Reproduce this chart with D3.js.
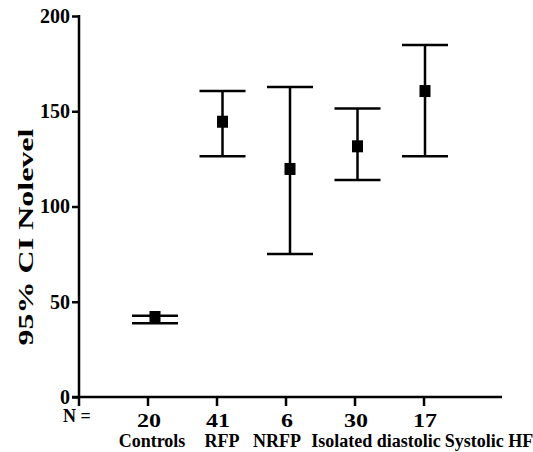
<!DOCTYPE html>
<html>
<head>
<meta charset="utf-8">
<script src="https://cdn.jsdelivr.net/npm/d3@7"></script>
</head>
<body style="margin:0; background:#fff;">
<div id="grafico"></div>
<script>
// datos
var grupos = ["Controls", "RFP", "NRFP", "Isolated diastolic", "Systolic HF"];
var n = [20, 41, 6, 30, 17];
var medias = [42.0, 144.5, 119.7, 131.6, 160.6];
var ic_bajo = [38.7, 126.4, 75.1, 113.9, 126.4];
var ic_alto = [42.7, 160.6, 162.7, 151.5, 184.8];
var ticks_y = [0, 50, 100, 150, 200];

// corrimiento de las etiquetas de grupo respecto de su tick (se enciman)
var corrimiento = [4, 5, -9, 21, 65];

var fuente = "'Liberation Serif'";

function estilo(sel, tam){
	sel.style("font-family", fuente)
		.style("font-weight", "bold")
		.style("font-size", tam + "px")
		.style("fill", "#000");
}

function graficar(){
	var width = 533, height = 452;

	var svg = d3.select("#grafico")
				.append("svg")
				.attr("width", width)
				.attr("height", height);

	var y = d3.scaleLinear().domain([0, 200]).range([397, 16]);
	// el eje x y las barras no comparten exactamente el mismo paso
	var xTick = d3.scaleLinear().domain([0, 6.13]).range([79, 502]);
	var xBarra = d3.scaleLinear().domain([1, 5]).range([155, 425]);

	// eje y
	var ejeY = d3.axisLeft(y).tickValues(ticks_y).tickSize(7).tickPadding(2);
	var gy = svg.append("g").attr("transform", "translate(79,0)").call(ejeY);
	gy.select(".domain").remove();
	gy.selectAll("line").attr("stroke", "#000").attr("stroke-width", 2.5);
	estilo(gy.selectAll("text"), 20);
	svg.append("line")
		.attr("x1", 79).attr("x2", 79)
		.attr("y1", y(200) - 1).attr("y2", 406)
		.attr("stroke", "#000").attr("stroke-width", 2.5);

	// eje x
	svg.append("line")
		.attr("x1", 72).attr("x2", xTick(6.13))
		.attr("y1", y(0)).attr("y2", y(0))
		.attr("stroke", "#000").attr("stroke-width", 2.5);

	var gx = svg.selectAll(".grupo")
				.data(grupos)
				.enter()
				.append("g")
				.attr("class", "grupo");

	gx.append("line")
		.attr("x1", function(d, i){ return xTick(i + 1); })
		.attr("x2", function(d, i){ return xTick(i + 1); })
		.attr("y1", y(0)).attr("y2", y(0) + 9)
		.attr("stroke", "#000").attr("stroke-width", 2.5);

	estilo(gx.append("text")
		.text(function(d, i){ return n[i]; })
		.attr("text-anchor", "middle")
		.attr("transform", function(d, i){
			return "translate(" + (xTick(i + 1) + 1) + ",426.5) scale(1.3,1)";
		}), 18.5);

	estilo(gx.append("text")
		.text(function(d){ return d; })
		.attr("text-anchor", "middle")
		.attr("x", function(d, i){ return xTick(i + 1) + corrimiento[i]; })
		.attr("y", 447), 18);

	estilo(svg.append("text")
		.text("N =")
		.attr("x", 63).attr("y", 422), 18);

	// rotulo eje y
	estilo(svg.append("text")
		.text("95% CI Nolevel")
		.attr("text-anchor", "middle")
		.attr("transform", "translate(33,237) rotate(-90)")
		.attr("textLength", 217)
		.attr("lengthAdjust", "spacingAndGlyphs"), 21);

	// barras de error
	var barras = svg.selectAll(".barra")
				.data(grupos)
				.enter()
				.append("g")
				.attr("class", "barra")
				.attr("stroke", "#000")
				.attr("stroke-width", 2.5);

	barras.append("line")
		.attr("x1", function(d, i){ return xBarra(i + 1); })
		.attr("x2", function(d, i){ return xBarra(i + 1); })
		.attr("y1", function(d, i){ return y(ic_alto[i]); })
		.attr("y2", function(d, i){ return y(ic_bajo[i]); });

	[ic_alto, ic_bajo].forEach(function(lim){
		barras.append("line")
			.attr("x1", function(d, i){ return xBarra(i + 1) - 23; })
			.attr("x2", function(d, i){ return xBarra(i + 1) + 23; })
			.attr("y1", function(d, i){ return y(lim[i]); })
			.attr("y2", function(d, i){ return y(lim[i]); });
	});

	barras.append("rect")
		.attr("x", function(d, i){ return xBarra(i + 1) - 5.5; })
		.attr("y", function(d, i){ return y(medias[i]) - 6; })
		.attr("width", 11).attr("height", 12)
		.attr("fill", "#000").attr("stroke", "none");
}

graficar();
</script>
</body>
</html>
